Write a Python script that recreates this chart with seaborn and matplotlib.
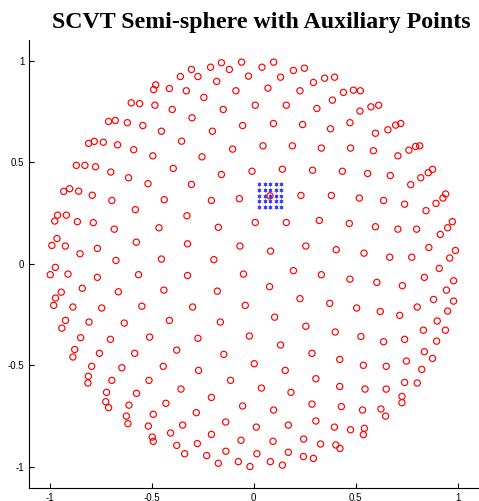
import numpy as np
import matplotlib
matplotlib.use("Agg")
import matplotlib.pyplot as plt
import seaborn as sns

# generator points, grouped by band (top / middle / bottom)
top_x = [-0.480, -0.490, -0.413, -0.600, -0.559, -0.484, -0.399, -0.711, -0.678, -0.619,
         -0.543, -0.452, -0.809, -0.781, -0.737, -0.667, -0.588, -0.494, -0.869, -0.827,
         -0.775, -0.700, -0.613, -0.518, -0.394, -0.931, -0.902, -0.858,
         -0.359, -0.305, -0.273, -0.211, -0.158, -0.119, -0.181, -0.059, -0.025, 0.041,
         0.098, 0.132, 0.195, 0.249, 0.293, -0.330, -0.244, -0.087, 0.070, 0.227,
         -0.149, 0.008, 0.160, 0.310, -0.302, -0.202, -0.054, 0.097, 0.240, -0.353,
         -0.103, 0.046, 0.190, 0.332, -0.253, -0.158, -0.008, 0.141, 0.289, -0.305,
         0.348, 0.397, 0.440, 0.489, 0.523, 0.386, 0.521, 0.575, 0.613, 0.472,
         0.377, 0.597, 0.658, 0.696, 0.721, 0.475, 0.587, 0.707, 0.761, 0.794,
         0.814, 0.435, 0.559, 0.670, 0.770, 0.819, 0.856, 0.877]
top_y = [0.880, 0.857, 0.862, 0.792, 0.788, 0.780, 0.759, 0.700, 0.705, 0.694,
         0.680, 0.652, 0.592, 0.602, 0.598, 0.585, 0.561, 0.531, 0.484, 0.484,
         0.477, 0.451, 0.423, 0.394, 0.469, 0.356, 0.369, 0.357,
         0.921, 0.956, 0.921, 0.967, 0.989, 0.956, 0.897, 0.992, 0.923, 0.967,
         0.992, 0.918, 0.951, 0.962, 0.892, 0.851, 0.818, 0.851, 0.864, 0.851,
         0.759, 0.780, 0.780, 0.764, 0.718, 0.652, 0.680, 0.690, 0.685, 0.603,
         0.564, 0.580, 0.580, 0.569, 0.526, 0.439, 0.455, 0.465, 0.460, 0.390,
         0.913, 0.918, 0.843, 0.854, 0.851, 0.805, 0.751, 0.772, 0.780, 0.694,
         0.664, 0.642, 0.659, 0.682, 0.690, 0.569, 0.556, 0.531, 0.559, 0.577,
         0.580, 0.455, 0.444, 0.434, 0.389, 0.423, 0.448, 0.464]

mid_x = [-0.791, -0.695, -0.438, -0.580, -0.961, -0.918, -0.975, -0.864, -0.786, -0.683,
         -0.464, -0.964, -0.989, -0.923, -0.575, -0.766, -0.851, -0.675, -0.452, -0.972,
         -0.997, -0.910, -0.766, -0.564, -0.943, -0.840, -0.663, -0.440, -0.971, -0.980,
         -0.886, -0.745, -0.548, -0.922, -0.807, -0.634, -0.413, -0.940,
         -0.207, -0.070, 0.080, 0.232, -0.327, -0.173, 0.008, 0.160, 0.322, -0.324,
         -0.067, 0.083, 0.256, -0.195, -0.324, -0.050, 0.195, 0.332, -0.178, 0.078,
         0.227, -0.299, -0.041, 0.103, -0.163, 0.256,
         0.381, 0.518, 0.637, 0.740, 0.845, 0.894, 0.928, 0.941, 0.469, 0.597,
         0.707, 0.799, 0.915, 0.951, 0.974, 0.405, 0.541, 0.667, 0.775, 0.859,
         0.961, 0.989, 0.910, 0.472, 0.604, 0.729, 0.837, 0.980, 0.945, 0.373,
         0.505, 0.621, 0.716, 0.802, 0.882, 0.980, 0.951, 0.900, 0.400, 0.526,
         0.832, 0.940]
mid_y = [0.337, 0.311, 0.315, 0.266, 0.239, 0.239, 0.210, 0.207, 0.202, 0.170,
         0.177, 0.124, 0.090, 0.087, 0.106, 0.075, 0.049, 0.016, 0.023, -0.018,
         -0.054, -0.051, -0.067, -0.054, -0.140, -0.121, -0.138, -0.130, -0.169, -0.205,
         -0.213, -0.218, -0.209, -0.279, -0.287, -0.292, -0.279, -0.317,
         0.311, 0.320, 0.334, 0.336, 0.236, 0.179, 0.203, 0.203, 0.213, 0.098,
         0.087, 0.062, 0.087, 0.020, -0.058, -0.051, -0.034, -0.054, -0.135, -0.113,
         -0.172, -0.213, -0.205, -0.263, -0.287, -0.308,
         0.336, 0.323, 0.311, 0.293, 0.261, 0.297, 0.323, 0.343, 0.198, 0.182,
         0.170, 0.170, 0.144, 0.177, 0.207, 0.069, 0.052, 0.032, 0.032, 0.080,
         0.028, 0.065, -0.023, -0.076, -0.092, -0.108, -0.067, -0.084, -0.130, -0.195,
         -0.218, -0.235, -0.254, -0.213, -0.176, -0.184, -0.233, -0.282, -0.336, -0.358,
         -0.327, -0.327]

bot_x = [-0.848, -0.702, -0.510, -0.877, -0.886, -0.756, -0.583, -0.377, -0.794, -0.646,
         -0.443, -0.810, -0.812, -0.695, -0.513, -0.721, -0.574, -0.725, -0.711, -0.611,
         -0.430, -0.624, -0.492, -0.616, -0.516, -0.407, -0.497, -0.492, -0.377,
         -0.273, -0.021, -0.146, 0.132, 0.286, -0.270, 0.003, 0.155, 0.305, -0.113,
         0.038, -0.356, 0.183, -0.207, -0.054, 0.098, 0.286, -0.281, -0.348, -0.137,
         0.013, 0.170, 0.305, -0.207, -0.062, 0.095, 0.245, 0.328, -0.276, -0.338,
         -0.230, -0.136, 0.016, 0.170, 0.244, 0.293, -0.173, -0.075, 0.082, -0.018,
         0.141,
         0.637, 0.740, 0.897, 0.837, 0.877, 0.422, 0.538, 0.650, 0.749, 0.824,
         0.422, 0.546, 0.650, 0.740, 0.802, 0.727, 0.727, 0.430, 0.534, 0.624,
         0.647, 0.396, 0.475, 0.543, 0.538, 0.403, 0.423]
bot_y = [-0.364, -0.372, -0.361, -0.422, -0.459, -0.441, -0.441, -0.425, -0.505, -0.512,
         -0.505, -0.554, -0.587, -0.574, -0.574, -0.633, -0.638, -0.679, -0.708, -0.696,
         -0.687, -0.750, -0.741, -0.787, -0.799, -0.833, -0.853, -0.874, -0.894,
         -0.367, -0.356, -0.446, -0.400, -0.441, -0.525, -0.492, -0.525, -0.566, -0.574,
         -0.612, -0.617, -0.633, -0.658, -0.700, -0.720, -0.691, -0.733, -0.794, -0.779,
         -0.804, -0.794, -0.774, -0.840, -0.869, -0.874, -0.863, -0.887, -0.885, -0.935,
         -0.944, -0.923, -0.935, -0.928, -0.949, -0.958, -0.982, -0.974, -0.974, -0.998,
         -0.991,
         -0.384, -0.372, -0.381, -0.433, -0.466, -0.471, -0.500, -0.505, -0.479, -0.520,
         -0.604, -0.617, -0.617, -0.584, -0.587, -0.653, -0.684, -0.703, -0.720, -0.715,
         -0.750, -0.804, -0.817, -0.810, -0.841, -0.892, -0.909]

# auxiliary points: small 5x5 grid around one generator
aux_x = [0.026, 0.054, 0.080, 0.108, 0.136]
aux_y = [0.390, 0.361, 0.334, 0.308, 0.278]

gen_x = np.array(top_x + mid_x + bot_x)
gen_y = np.array(top_y + mid_y + bot_y)
ax_grid, ay_grid = np.meshgrid(aux_x, aux_y)

sns.set_style("white")
plt.rcParams["font.family"] = ["Liberation Sans", "DejaVu Sans"]

fig = plt.figure(figsize=(4.79, 5.01), dpi=100)
ax = fig.add_axes([0.061, 0.025, 0.937, 0.896])

sns.scatterplot(x=ax_grid.ravel(), y=ay_grid.ravel(), marker=(6, 2, 0), s=6,
                color="#3b3bff", edgecolor="#3b3bff", linewidth=0.5, ax=ax, zorder=2)
sns.scatterplot(x=gen_x, y=gen_y, marker="o", s=20, facecolor="none",
                edgecolor="red", linewidth=0.85, ax=ax, zorder=3)

ax.set_xlim(-1.1, 1.1)
ax.set_ylim(-1.106, 1.103)
ax.set_xticks([-1, -0.5, 0, 0.5, 1])
ax.set_xticklabels(["-1", "-0.5", "0", "0.5", "1"])
ax.set_yticks([-1, -0.5, 0, 0.5, 1])
ax.set_yticklabels(["-1", "-0.5", "0", "0.5", "1"])
ax.tick_params(direction="in", length=3.6, width=0.8, labelsize=7, pad=3.5,
               colors="black", left=True, bottom=True)
for side in ["top", "right"]:
    ax.spines[side].set_visible(False)
for side in ["left", "bottom"]:
    ax.spines[side].set_color("black")
    ax.spines[side].set_linewidth(0.8)

ax.set_title("SCVT Semi-sphere with Auxiliary Points", family="Liberation Serif",
             fontweight="bold", fontsize=17.2, color="black", pad=8, x=0.517)

fig.savefig("out.png", dpi=100)
